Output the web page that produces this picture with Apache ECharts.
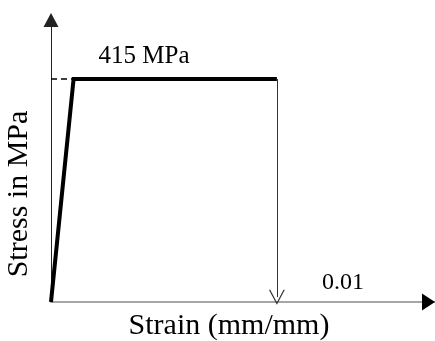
<!DOCTYPE html>
<html>
<head>
<meta charset="utf-8">
<script src="https://cdn.jsdelivr.net/npm/echarts@6/dist/echarts.min.js"></script>
<style>html,body{margin:0;padding:0;background:#fff}#c{width:435px;height:341px}</style>
</head>
<body>
<div id="c"></div>
<script>
// Data (schematic elastic-perfectly-plastic stress-strain curve)
const strainPoints = [0, 0.001, 0.01];
const stressPoints = [0, 415, 415];
const dashStrain = [0, 0.001];
const dashStress = [415, 415];
const failureStrain = 0.01;
const failureArrowFrom = 415;
const failureArrowTo = 9;
const yieldLabel = '415 MPa';
const strainLabel = '0.01';
const xTitle = 'Strain (mm/mm)';
const yTitle = 'Stress in MPa';
const xMax = 0.017;
const yMax = 525;

const FONT = "'Liberation Serif', 'Times New Roman', serif";
const chart = echarts.init(document.getElementById('c'), null, {renderer: 'canvas'});

const mainData = strainPoints.map((s, i) => [s, stressPoints[i]]);
const dashData = dashStrain.map((s, i) => [s, dashStress[i]]);

const option = {
  animation: false,
  backgroundColor: '#fff',
  grid: {left: 51, right: 0, top: 20, bottom: 39, containLabel: false},
  xAxis: {
    type: 'value', min: 0, max: xMax,
    axisLine: {show: true, onZero: false, lineStyle: {color: '#a6a6a6', width: 2}},
    axisTick: {show: false}, axisLabel: {show: false}, splitLine: {show: false}
  },
  yAxis: {
    type: 'value', min: 0, max: yMax,
    axisLine: {show: true, onZero: false, symbol: ['none', 'triangle'], symbolSize: [15, 14],
      lineStyle: {color: '#222', width: 1}},
    axisTick: {show: false}, axisLabel: {show: false}, splitLine: {show: false}
  },
  series: [
    {
      type: 'line', data: dashData, symbol: 'none',
      lineStyle: {color: '#000', width: 1.5, type: [6, 4]}, z: 3
    },
    {
      type: 'line', data: mainData, symbol: 'none',
      lineStyle: {color: '#000', width: 4, join: 'miter'}, z: 4
    },
    {
      type: 'line', data: [], symbol: 'none',
      markLine: {
        silent: true,
        symbol: ['none', 'path://M7,0 L14,14 L12.8,14 L7,2.2 L1.2,14 L0,14 Z'],
        symbolSize: [16, 15],
        label: {show: false},
        lineStyle: {color: '#333', width: 1, type: 'solid'},
        data: [[{coord: [failureStrain, failureArrowFrom]}, {coord: [failureStrain, failureArrowTo]}]]
      }
    }
  ]
};
chart.setOption(option);

// black arrowhead at the end of the x axis + text annotations
const end = chart.convertToPixel({gridIndex: 0}, [xMax, 0]);
chart.setOption({
  graphic: [
    {type: 'text', x: 144, y: 56, style: {text: yieldLabel, font: '25px ' + FONT, fill: '#000', textAlign: 'center', textVerticalAlign: 'middle'}},
    {type: 'text', x: 343, y: 283, style: {text: strainLabel, font: '24px ' + FONT, fill: '#000', textAlign: 'center', textVerticalAlign: 'middle'}},
    {type: 'text', x: 229, y: 326, style: {text: xTitle, font: '30px ' + FONT, fill: '#000', textAlign: 'center', textVerticalAlign: 'middle'}},
    {type: 'text', x: 19, y: 194, rotation: Math.PI / 2, style: {text: yTitle, font: '30px ' + FONT, fill: '#000', textAlign: 'center', textVerticalAlign: 'middle'}},
    {type: 'polygon', shape: {points: [[end[0] - 13, end[1] - 8.5], [end[0], end[1]], [end[0] - 13, end[1] + 8.5]]}, style: {fill: '#000'}, z: 10}
  ]
});
</script>
</body>
</html>
